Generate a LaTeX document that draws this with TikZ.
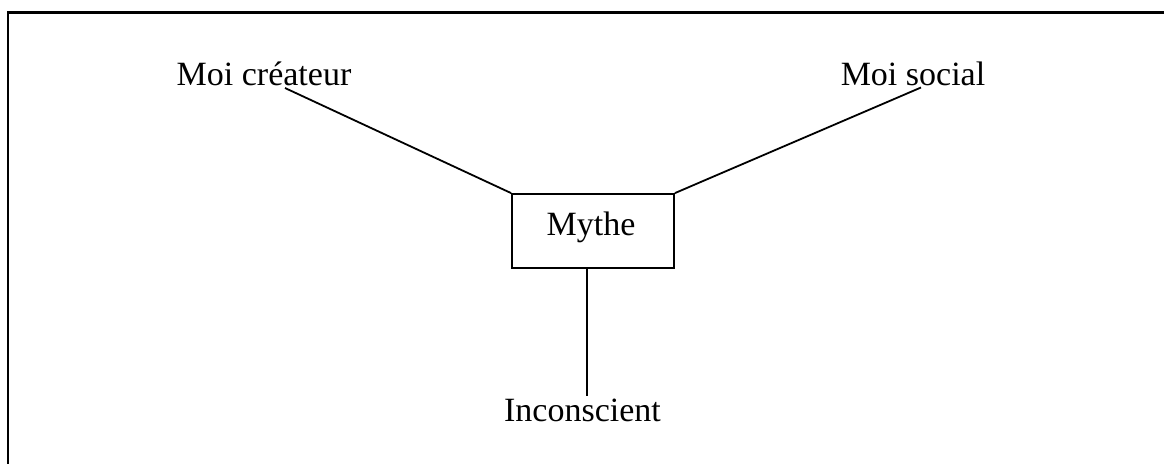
\documentclass[tikz,border=0pt]{standalone}
\usepackage{fontspec}
\setmainfont{Liberation Serif}
\begin{document}
\begin{tikzpicture}[x=1pt,y=-1pt,
  lbl/.style={font=\fontsize{34}{40}\selectfont, inner sep=0pt, anchor=base},
  conn/.style={line width=1.8pt},
  frame/.style={line width=2.2pt},
  mbox/.style={draw, line width=1.8pt, minimum width=162pt, minimum height=74pt, inner sep=0pt}]
\useasboundingbox (0,0) rectangle (1164,463);
% frame (top and left edges)
\coordinate (ftl) at (8,12.5);
\coordinate (ftr) at (1166,12.5);
\coordinate (fbl) at (8,465);
\draw[frame] (ftr) -- (ftl) -- (fbl);
% central box
\node[mbox] (mythe) at (593,231) {};
\node[lbl] (mythetxt) at (591,235) {Mythe};
% labels
\node[lbl] (createur) at (264,85) {Moi créateur};
\node[lbl] (social) at (913,85) {Moi social};
\node[lbl] (incons) at (582.5,421) {Inconscient};
% connector ends near labels
\coordinate (ce) at (285,88);
\coordinate (se) at (921,87.5);
\coordinate (ie) at (587,396);
\draw[conn] (mythe.north west) -- (ce);
\draw[conn] (mythe.north east) -- (se);
\draw[conn] (mythe.south -| ie) -- (ie);
\end{tikzpicture}
\end{document}
